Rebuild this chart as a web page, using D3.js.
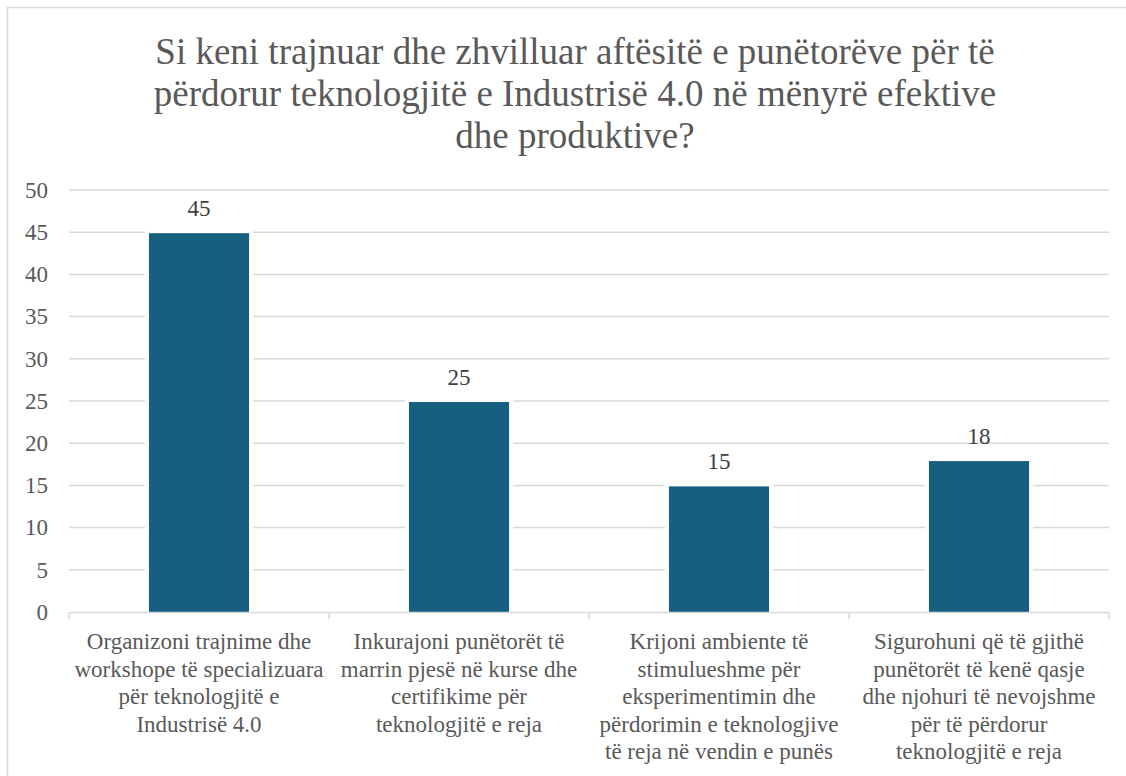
<!DOCTYPE html>
<html>
<head>
<meta charset="utf-8">
<script src="https://cdn.jsdelivr.net/npm/d3@7"></script>
</head>
<body>
<div id="chart"></div>
<script>
// Survey answers: how worker skills were developed for Industry 4.0 technologies
const titleLines = [
  "Si keni trajnuar dhe zhvilluar aftësitë e punëtorëve për të",
  "përdorur teknologjitë e Industrisë 4.0 në mënyrë efektive",
  "dhe produktive?"
];
const categories = [
  "Organizoni trajnime dhe workshope të specializuara për teknologjitë e Industrisë 4.0",
  "Inkurajoni punëtorët të marrin pjesë në kurse dhe certifikime për teknologjitë e reja",
  "Krijoni ambiente të stimulueshme për eksperimentimin dhe përdorimin e teknologjive të reja në vendin e punës",
  "Sigurohuni që të gjithë punëtorët të kenë qasje dhe njohuri të nevojshme për të përdorur teknologjitë e reja"
];
const categoryLines = [
  ["Organizoni trajnime dhe", "workshope të specializuara", "për teknologjitë e", "Industrisë 4.0"],
  ["Inkurajoni punëtorët të", "marrin pjesë në kurse dhe", "certifikime për", "teknologjitë e reja"],
  ["Krijoni ambiente të", "stimulueshme për", "eksperimentimin dhe", "përdorimin e teknologjive", "të reja në vendin e punës"],
  ["Sigurohuni që të gjithë", "punëtorët të kenë qasje", "dhe njohuri të nevojshme", "për të përdorur", "teknologjitë e reja"]
];
const values = [45, 25, 15, 18];
const yTicks = [0, 5, 10, 15, 20, 25, 30, 35, 40, 45, 50];

const W = 1126, H = 776;
const margin = { left: 69, right: 17, top: 190, bottom: 164 };
const SERIF = '"Liberation Serif"';

document.body.style.margin = "0";
document.body.style.background = "#ffffff";

function draw() {
  d3.select("#chart").selectAll("*").remove();
  const svg = d3.select("#chart").append("svg")
    .attr("width", W).attr("height", H)
    .style("display", "block")
    .style("font-family", SERIF);

  // chart frame (right and bottom edges run past the canvas)
  svg.append("rect")
    .attr("x", 7.5).attr("y", 7.5)
    .attr("width", W + 20).attr("height", H + 20)
    .attr("fill", "#ffffff").attr("stroke", "#d9d9d9").attr("stroke-width", 1.5);

  // title
  svg.selectAll("text.title").data(titleLines).join("text")
    .attr("class", "title")
    .attr("x", 575).attr("y", (d, i) => 64 + i * 42)
    .attr("text-anchor", "middle")
    .style("font-family", SERIF).style("font-size", "37px")
    .attr("fill", "#595959")
    .text(d => d);

  const x = d3.scaleBand()
    .domain(categories)
    .range([margin.left, W - margin.right])
    .paddingInner(0.615).paddingOuter(0.3075);

  const y = d3.scaleLinear()
    .domain([0, 50])
    .range([H - margin.bottom, margin.top]);

  // gridlines
  svg.append("g")
    .selectAll("line").data(yTicks.filter(t => t > 0)).join("line")
    .attr("x1", margin.left).attr("x2", W - margin.right)
    .attr("y1", d => y(d)).attr("y2", d => y(d))
    .attr("stroke", "#d9d9d9").attr("stroke-width", 1.5);

  // y tick labels
  const yAxis = svg.append("g")
    .attr("transform", `translate(${margin.left},0)`)
    .call(d3.axisLeft(y).tickValues(yTicks).tickSize(0).tickPadding(21));
  yAxis.attr("font-family", null).attr("font-size", null);
  yAxis.select(".domain").remove();
  yAxis.selectAll("text")
    .style("font-family", SERIF).style("font-size", "23px").attr("fill", "#595959");

  // bars with a white halo that breaks the gridlines
  const bars = svg.append("g");
  bars.selectAll("rect.halo").data(values).join("rect")
    .attr("class", "halo")
    .attr("x", (d, i) => x(categories[i]) - 4)
    .attr("width", x.bandwidth() + 8)
    .attr("y", d => y(d) - 3)
    .attr("height", d => y(0) - y(d) + 3)
    .attr("fill", "#ffffff");
  bars.selectAll("rect.bar").data(values).join("rect")
    .attr("class", "bar")
    .attr("x", (d, i) => x(categories[i]))
    .attr("width", x.bandwidth())
    .attr("y", d => y(d) + 1)
    .attr("height", d => y(0) - y(d) - 1)
    .attr("fill", "#165f80");

  // category axis line
  const xAxis = svg.append("g")
    .attr("transform", `translate(0,${y(0)})`)
    .call(d3.axisBottom(x).tickSize(0).tickFormat(""));
  xAxis.select(".domain").attr("stroke", "#d9d9d9").attr("stroke-width", 1.5);
  xAxis.selectAll(".tick").remove();

  // tick marks on the category boundaries
  const edges = [margin.left].concat(categories.map((c, i) => margin.left + x.step() * (i + 1)));
  svg.append("g").selectAll("line").data(edges).join("line")
    .attr("x1", d => d).attr("x2", d => d)
    .attr("y1", y(0)).attr("y2", y(0) + 7)
    .attr("stroke", "#d9d9d9").attr("stroke-width", 1.5);

  // category labels, one text per line
  categoryLines.forEach((lines, i) => {
    const cx = x(categories[i]) + x.bandwidth() / 2;
    svg.append("g").selectAll("text").data(lines).join("text")
      .attr("x", cx)
      .attr("y", (d, j) => 649 + j * 27.5)
      .attr("text-anchor", "middle")
      .style("font-family", SERIF).style("font-size", "23px")
      .attr("fill", "#595959")
      .text(d => d);
  });

  // value labels
  svg.append("g").selectAll("text").data(values).join("text")
    .attr("x", (d, i) => x(categories[i]) + x.bandwidth() / 2)
    .attr("y", d => y(d) - 16)
    .attr("text-anchor", "middle")
    .style("font-family", SERIF).style("font-size", "23px")
    .attr("fill", "#404040")
    .text(d => d);
}

draw();
// redraw once the serif face is ready so no text keeps a fallback face
if (document.fonts && document.fonts.load) {
  Promise.all([
    document.fonts.load('37px "Liberation Serif"'),
    document.fonts.load('23px "Liberation Serif"')
  ]).then(draw, draw);
}
</script>
</body>
</html>
